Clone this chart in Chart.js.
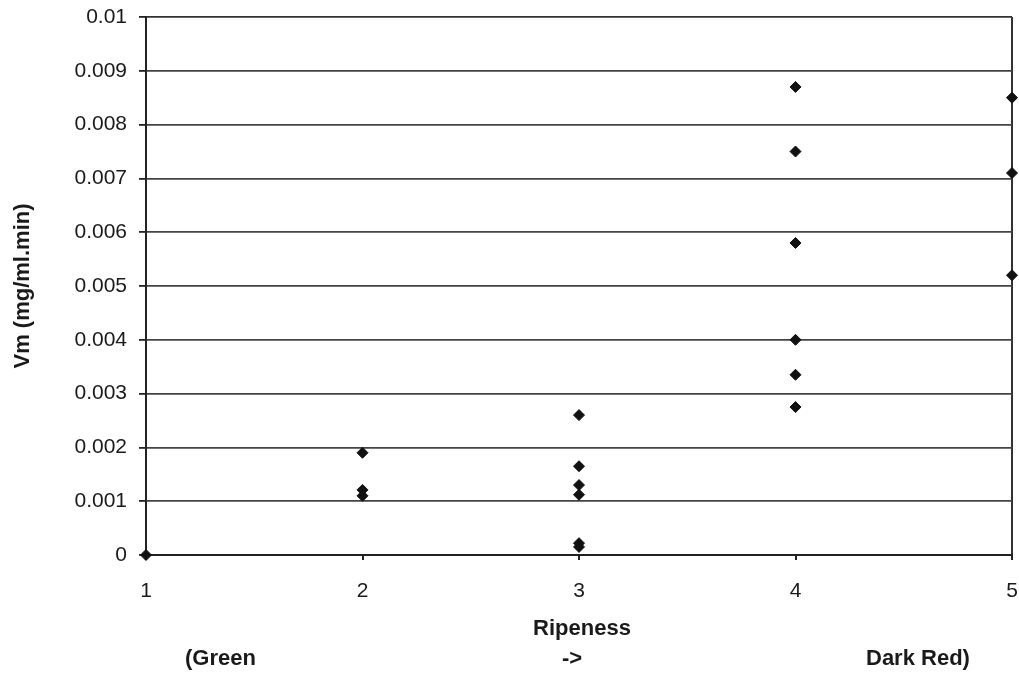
<!DOCTYPE html>
<html>
<head>
<meta charset="utf-8">
<script src="https://cdn.jsdelivr.net/npm/chart.js@4/dist/chart.umd.min.js"></script>
<style>
html,body{margin:0;padding:0;background:#fff;}
#wrap{width:1019px;height:674px;}
</style>
</head>
<body>
<div id="wrap"><canvas id="c" width="1019" height="674"></canvas></div>
<script>
// ---- data ----
const ripeness = [1, 2, 2, 2, 3, 3, 3, 3, 3, 3, 4, 4, 4, 4, 4, 4, 5, 5, 5];
const vm = [0,
  0.0019, 0.00121, 0.0011,
  0.0026, 0.00165, 0.0013, 0.00112, 0.00022, 0.00015,
  0.0087, 0.0075, 0.0058, 0.0040, 0.00335, 0.00275,
  0.0085, 0.0071, 0.0052];
const xTickLabels = ['1', '2', '3', '4', '5'];
const yTickLabels = ['0', '0.001', '0.002', '0.003', '0.004', '0.005', '0.006', '0.007', '0.008', '0.009', '0.01'];
const xTitle = 'Ripeness';
const yTitle = 'Vm (mg/ml.min)';
const xSubLabels = ['(Green', '->', 'Dark Red)'];

const points = ripeness.map((r, i) => ({x: r, y: vm[i]}));
const FONT = '"Liberation Sans", Arial, Helvetica, sans-serif';

const titlePlugin = {
  id: 'titles',
  afterDraw(chart) {
    const ctx = chart.ctx;
    ctx.save();
    ctx.fillStyle = '#1a1a1a';
    ctx.font = 'bold 22px ' + FONT;
    ctx.textBaseline = 'middle';
    // y title
    ctx.save();
    ctx.translate(23, (chart.chartArea.top + chart.chartArea.bottom) / 2);
    ctx.rotate(-Math.PI / 2);
    ctx.textAlign = 'center';
    ctx.fillText(yTitle, 0, 0);
    ctx.restore();
    // x title
    ctx.textAlign = 'center';
    ctx.fillText(xTitle, 582, 629);
    // sub labels
    ctx.textAlign = 'left';
    ctx.fillText(xSubLabels[0], 185, 659);
    ctx.textAlign = 'center';
    ctx.fillText(xSubLabels[1], 572, 659);
    ctx.textAlign = 'left';
    ctx.fillText(xSubLabels[2], 866, 659);
    ctx.restore();
  }
};

new Chart(document.getElementById('c'), {
  type: 'scatter',
  data: {
    datasets: [{
      data: points,
      pointStyle: 'rectRot',
      pointRadius: 5.5,
      pointHoverRadius: 5.5,
      backgroundColor: '#111',
      borderColor: '#111',
      borderWidth: 1,
      clip: false
    }]
  },
  options: {
    responsive: false,
    animation: false,
    devicePixelRatio: 1,
    layout: {autoPadding: false, padding: {left: 0, right: 7, top: 17, bottom: 0}},
    plugins: {legend: {display: false}, tooltip: {enabled: false}},
    scales: {
      x: {
        type: 'linear',
        min: 1, max: 5,
        afterFit(s) { s.height = 119; s.paddingLeft = 0; s.paddingRight = 0; },
        ticks: {
          stepSize: 1,
          padding: 19,
          color: '#1a1a1a',
          font: {family: FONT, size: 21},
          callback: (v) => xTickLabels[v - 1] ?? ''
        },
        grid: {
          color: (c) => (c.tick && c.tick.value === 5) ? '#333' : 'rgba(0,0,0,0)',
          lineWidth: 2,
          tickColor: '#222',
          tickLength: 5
        },
        border: {color: '#222', width: 2}
      },
      y: {
        min: 0, max: 0.01,
        afterFit(s) { s.width = 146; s.paddingTop = 0; s.paddingBottom = 0; },
        ticks: {
          stepSize: 0.001,
          padding: 12,
          color: '#1a1a1a',
          font: {family: FONT, size: 21},
          callback: (v) => yTickLabels[Math.round(v * 1000)] ?? ''
        },
        grid: {
          color: (c) => (c.tick && c.tick.value === 0.01) ? '#333' : '#444',
          lineWidth: 1.8,
          tickColor: '#222',
          tickLength: 7
        },
        border: {color: '#222', width: 2}
      }
    }
  },
  plugins: [titlePlugin]
});
</script>
</body>
</html>
